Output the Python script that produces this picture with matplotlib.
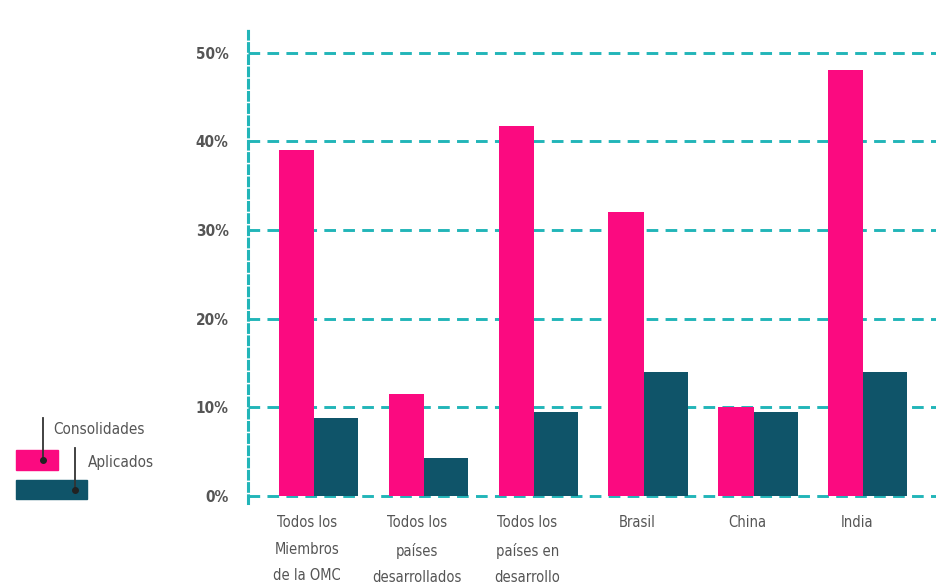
import numpy as np
import matplotlib.pyplot as plt
from matplotlib.patches import Rectangle
from matplotlib.lines import Line2D

categorias = ["Todos los\nMiembros\nde la OMC", "Todos los\npaíses\ndesarrollados",
              "Todos los\npaíses en\ndesarrollo", "Brasil", "China", "India"]
consolidados = [39, 11.5, 41.7, 32, 10, 48.1]
aplicados = [8.8, 4.3, 9.5, 14, 9.5, 14]
yticks = [0, 10, 20, 30, 40, 50]

rosa = "#fb0a80"
azul = "#0f5469"
cian = "#22b5b8"
gris = "#555555"
fam = ["DejaVu Sans"]

fig = plt.figure(figsize=(9.36, 5.88), dpi=100)
ax = fig.add_axes([248 / 936, 92 / 588, 688 / 936, 468 / 588])

x = np.arange(len(categorias))
ax.bar(x - 0.2, consolidados, width=0.32, color=rosa, zorder=3)
ax.bar(x + 0.16, aplicados, width=0.40, color=azul, zorder=3)

ax.set_xlim(-0.64, 5.62)
ax.set_ylim(0, 52.8)
ax.set_yticks(yticks)
ax.set_yticklabels([f"{v}%" for v in yticks], family=fam, stretch="condensed",
                   fontsize=11, color=gris, fontweight="bold")
ax.set_xticks(x - 0.1)
ax.set_xticklabels(categorias, family=fam, stretch="condensed", fontsize=10.5,
                   color=gris, linespacing=1.95, va="top")
ax.tick_params(axis="both", length=0)
ax.tick_params(axis="y", pad=14)
ax.tick_params(axis="x", pad=14)

for s in ["top", "right", "bottom"]:
    ax.spines[s].set_visible(False)
ax.spines["left"].set_color(cian)
ax.spines["left"].set_linewidth(2.2)
ax.spines["left"].set_linestyle((0, (2.5, 1.5)))
ax.spines["left"].set_bounds(-0.8, 52.8)

for v in yticks:
    ax.axhline(v, color=cian, lw=2.1, ls=(0, (4, 2.5)), zorder=1,
               clip_on=False)

# leyenda dibujada a mano
def px(xp, yp):
    return xp / 936, 1 - yp / 588

fig.patches.append(Rectangle(px(16, 470), 42 / 936, 20 / 588,
                             transform=fig.transFigure, color=rosa))
fig.patches.append(Rectangle(px(16, 499), 71 / 936, 19 / 588,
                             transform=fig.transFigure, color=azul))
for (lx, y0, y1) in [(43, 418, 462), (75, 448, 492)]:
    fig.lines.append(Line2D([lx / 936, lx / 936], [1 - y0 / 588, 1 - y1 / 588],
                            transform=fig.transFigure, color="#333333", lw=1.3))
    fig.lines.append(Line2D([lx / 936], [1 - (y1 - 2) / 588], marker="o",
                            ms=4, transform=fig.transFigure, color="#222222"))
fig.text(53 / 936, 1 - 430 / 588, "Consolidades", family=fam, stretch="condensed",
         fontsize=11, color=gris, va="center")
fig.text(88 / 936, 1 - 462 / 588, "Aplicados", family=fam, stretch="condensed",
         fontsize=11, color=gris, va="center")

fig.savefig("out.png", dpi=100)
